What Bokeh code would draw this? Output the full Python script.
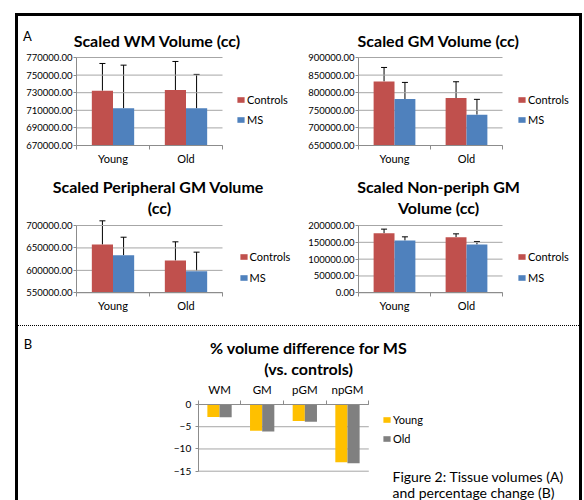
from bokeh.plotting import figure
from bokeh.models import (Range1d, LinearAxis, FixedTicker, NumeralTickFormatter, BasicTickFormatter,
                          Whisker, TeeHead, Legend, LegendItem, Label, ColumnDataSource, Div)
from bokeh.transform import dodge
from bokeh.layouts import row, column
from bokeh.embed import file_html
from bokeh.resources import INLINE

FONT = "Lato"
RED = "#C0504D"
BLUE = "#4F81BD"
GOLD = "#FFC000"
GREY = "#808080"
GRID = "#a6a6a6"
AXIS = "#8c8c8c"

# ---------------- data ----------------
ages = ["Young", "Old"]
groups = ["Controls", "MS"]

wm_ctrl = [732300, 733000]
wm_ctrl_err = [30900, 32500]
wm_ms = [712300, 712300]
wm_ms_err = [49000, 38500]
wm_ticks = [670000, 690000, 710000, 730000, 750000, 770000]

gm_ctrl = [832100, 784900]
gm_ctrl_err = [39600, 46200]
gm_ms = [782100, 737700]
gm_ms_err = [47100, 43400]
gm_ticks = [650000, 700000, 750000, 800000, 850000, 900000]

pgm_ctrl = [657700, 622000]
pgm_ctrl_err = [52700, 41600]
pgm_ms = [633900, 598300]
pgm_ms_err = [40000, 42300]
pgm_ticks = [550000, 600000, 650000, 700000]

npgm_ctrl = [177200, 165300]
npgm_ctrl_err = [12000, 9900]
npgm_ms = [155400, 143600]
npgm_ms_err = [10900, 8900]
npgm_ticks = [0, 50000, 100000, 150000, 200000]

tissues = ["WM", "GM", "pGM", "npGM"]
pct_series = ["Young", "Old"]
pct_young = [-2.8, -5.9, -3.7, -13.0]
pct_old = [-2.85, -6.1, -3.9, -13.2]
pct_ticks = [-15, -10, -5, 0]

caption = ["Figure 2: Tissue volumes (A)", "and percentage change (B)"]


def centers(cats):
    # category slots of width 1 on a numeric axis: centres at i + 0.5
    return [i + 0.5 for i in range(len(cats))]


class Panel:
    """A figure whose frame is the whole canvas; the plot area sits inside it."""

    def __init__(self, origin, size, x_px, ncat, y_px, ticks):
        self.ox, self.oy = origin
        W, H = size
        self.W, self.H = W, H
        x0, x1 = x_px                      # local px of category edges 0 and ncat
        kx = ncat / (x1 - x0)
        pb, pt = y_px                      # local px of ticks[0] and ticks[-1]
        ky = (ticks[-1] - ticks[0]) / (pb - pt)
        self.p = figure(width=W, height=H, output_backend="svg", toolbar_location=None,
                        x_range=Range1d(0 - x0 * kx, ncat + (W - x1) * kx),
                        y_range=Range1d(ticks[0] - (H - pb) * ky, ticks[-1] + pt * ky),
                        x_axis_type=None, y_axis_type=None,
                        min_border_left=0, min_border_right=0,
                        min_border_top=0, min_border_bottom=0, min_border=0)
        self.p.outline_line_color = None
        self.p.background_fill_color = "white"
        self.p.border_fill_color = "white"

    def label(self, text, x, y, size, bold=False, align="center"):
        # x, y: absolute picture pixels (y = text baseline)
        self.p.add_layout(Label(x=x - self.ox, y=self.H - (y - self.oy),
                                x_units="screen", y_units="screen", text=text,
                                text_font=FONT, text_font_size=size,
                                text_font_style="bold" if bold else "normal",
                                text_align=align, text_baseline="alphabetic",
                                text_color="black"))

    def legend(self, items, glyph_left, bottom, spacing):
        lg = Legend(items=items, location=(glyph_left - self.ox, self.H - (bottom - self.oy)),
                    orientation="vertical", border_line_color=None, background_fill_alpha=0,
                    padding=0, margin=0, spacing=spacing,
                    glyph_width=9, glyph_height=7, label_height=7, label_standoff=2,
                    label_text_font=FONT, label_text_font_size="11px",
                    label_text_color="black", label_text_baseline="middle")
        self.p.add_layout(lg)


def add_axes(p, cats, ticks, fmt, ylab_size, ylab_standoff, xside, xloc, xlab_size, xlab_standoff):
    n = len(cats)
    # gridlines at every value tick, across the category span
    p.segment(x0=0, x1=n, y0="t", y1="t", source=ColumnDataSource(dict(t=ticks)),
              line_color=GRID, line_width=1)
    yax = LinearAxis(fixed_location=0, bounds=(ticks[0], ticks[-1]),
                     ticker=FixedTicker(ticks=ticks),
                     formatter=NumeralTickFormatter(format=fmt) if fmt else BasicTickFormatter())
    yax.axis_line_color = AXIS
    yax.major_tick_line_color = AXIS
    yax.major_tick_out = 3
    yax.major_tick_in = 0
    yax.minor_tick_line_color = None
    yax.major_label_standoff = ylab_standoff
    yax.major_label_text_font = FONT
    yax.major_label_text_font_size = ylab_size
    yax.major_label_text_color = "black"
    p.add_layout(yax, "left")

    cticks = centers(cats)
    bounds = [float(i) for i in range(n + 1)]
    xax = LinearAxis(fixed_location=xloc, bounds=(0, n),
                     ticker=FixedTicker(ticks=cticks, minor_ticks=bounds),
                     major_label_overrides={t: c for t, c in zip(cticks, cats)})
    xax.axis_line_color = AXIS
    xax.major_tick_line_color = None
    xax.major_tick_out = 0
    xax.major_tick_in = 0
    xax.minor_tick_line_color = AXIS
    xax.minor_tick_out = 4
    xax.minor_tick_in = 0
    xax.major_label_standoff = xlab_standoff
    xax.major_label_text_font = FONT
    xax.major_label_text_font_size = xlab_size
    xax.major_label_text_color = "black"
    p.add_layout(xax, xside)


def volume_chart(origin, size, x_px, y_px, ctrl, ctrl_err, ms, ms_err, ticks,
                 legend_left, legend_bottom, legend_spacing, titles):
    pan = Panel(origin, size, x_px, len(ages), y_px, ticks)
    p = pan.p
    add_axes(p, ages, ticks, "0.00", "9.5px", 1, "below", ticks[0], "11px", 2)

    src = ColumnDataSource(dict(
        pos=centers(ages), ctrl=ctrl, ms=ms,
        ctrl_up=[v + e for v, e in zip(ctrl, ctrl_err)],
        ms_up=[v + e for v, e in zip(ms, ms_err)],
    ))
    w = 0.29
    r1 = p.vbar(x=dodge("pos", -w / 2), top="ctrl", bottom=ticks[0],
                width=w, source=src, fill_color=RED, line_color=None)
    r2 = p.vbar(x=dodge("pos", w / 2), top="ms", bottom=ticks[0],
                width=w, source=src, fill_color=BLUE, line_color=None)
    for off, lo, up in ((-w / 2, "ctrl", "ctrl_up"), (w / 2, "ms", "ms_up")):
        p.add_layout(Whisker(source=src, base=dodge("pos", off),
                             lower=lo, upper=up, dimension="height",
                             line_color="black", line_width=1,
                             upper_head=TeeHead(size=6, line_color="black", line_width=1),
                             lower_head=None))
    pan.legend([LegendItem(label=groups[0], renderers=[r1]),
                LegendItem(label=groups[1], renderers=[r2])],
               legend_left, legend_bottom, legend_spacing)
    for text, x, y in titles:
        pan.label(text, x, y, "16px", bold=True)
    return pan


c1 = volume_chart((18, 16), (282, 152), (58, 204), (129, 41),
                  wm_ctrl, wm_ctrl_err, wm_ms, wm_ms_err, wm_ticks,
                  236, 125.5, 7, [("Scaled WM Volume (cc)", 156.7, 39.5)])
c1.label("A", 22.5, 35, "13px", align="left")

c2 = volume_chart((300, 16), (279, 152), (58, 202), (129, 41),
                  gm_ctrl, gm_ctrl_err, gm_ms, gm_ms_err, gm_ticks,
                  517, 125.5, 7, [("Scaled GM Volume (cc)", 438, 39.5)])

c3 = volume_chart((18, 168), (282, 157), (58, 204), (124.3, 57),
                  pgm_ctrl, pgm_ctrl_err, pgm_ms, pgm_ms_err, pgm_ticks,
                  238.5, 283.8, 8, [("Scaled Peripheral GM Volume", 157.8, 186), ("(cc)", 159, 207)])

c4 = volume_chart((300, 168), (279, 157), (58, 202), (124.3, 57),
                  npgm_ctrl, npgm_ctrl_err, npgm_ms, npgm_ms_err, npgm_ticks,
                  517, 283.8, 8, [("Scaled Non-periph GM", 438, 186), ("Volume (cc)", 438, 207)])

# ---------------- panel B ----------------
cb = Panel((18, 326), (561, 174), (179.7, 350.3), len(tissues), (144.7, 78), pct_ticks)
pb = cb.p
add_axes(pb, tissues, pct_ticks, None, "10px", 4, "above", pct_ticks[-1], "11.5px", 5)
srcB = ColumnDataSource(dict(pos=centers(tissues), young=pct_young, old=pct_old))
wb = 0.285
rb1 = pb.vbar(x=dodge("pos", -wb / 2), top=pct_ticks[-1], bottom="young",
              width=wb, source=srcB, fill_color=GOLD, line_color=None)
rb2 = pb.vbar(x=dodge("pos", wb / 2), top=pct_ticks[-1], bottom="old",
              width=wb, source=srcB, fill_color=GREY, line_color=None)
cb.legend([LegendItem(label=pct_series[0], renderers=[rb1]),
           LegendItem(label=pct_series[1], renderers=[rb2])], 382, 444.8, 6)
cb.label("% volume difference for MS", 308.3, 347.3, "16px", bold=True)
cb.label("(vs. controls)", 308, 367.7, "16px", bold=True)
cb.label("B", 23.3, 343.3, "13px", align="left")
cb.label(caption[0], 392, 476, "14px", align="left")
cb.label(caption[1], 392, 492, "14px", align="left")


# ---------------- frame / layout ----------------
def block(w, h, styles=None):
    return Div(width=w, height=h, margin=0, styles=styles or {})


black = {"background-color": "black"}
dotted = {"background-image":
          "repeating-linear-gradient(to right, #000 0px, #000 1px, transparent 1px, transparent 2px)"}

content = column(
    row(c1.p, c2.p, spacing=0),
    row(c3.p, c4.p, spacing=0),
    block(561, 1, dotted),
    pb,
    spacing=0,
)

root = column(
    block(584, 13),
    row(block(15, 3), block(567, 3, black), spacing=0),
    row(block(15, 484), block(3, 484, black), content, block(3, 484, black), spacing=0),
    spacing=0,
)

open("out.html", "w").write(file_html(root, INLINE))
